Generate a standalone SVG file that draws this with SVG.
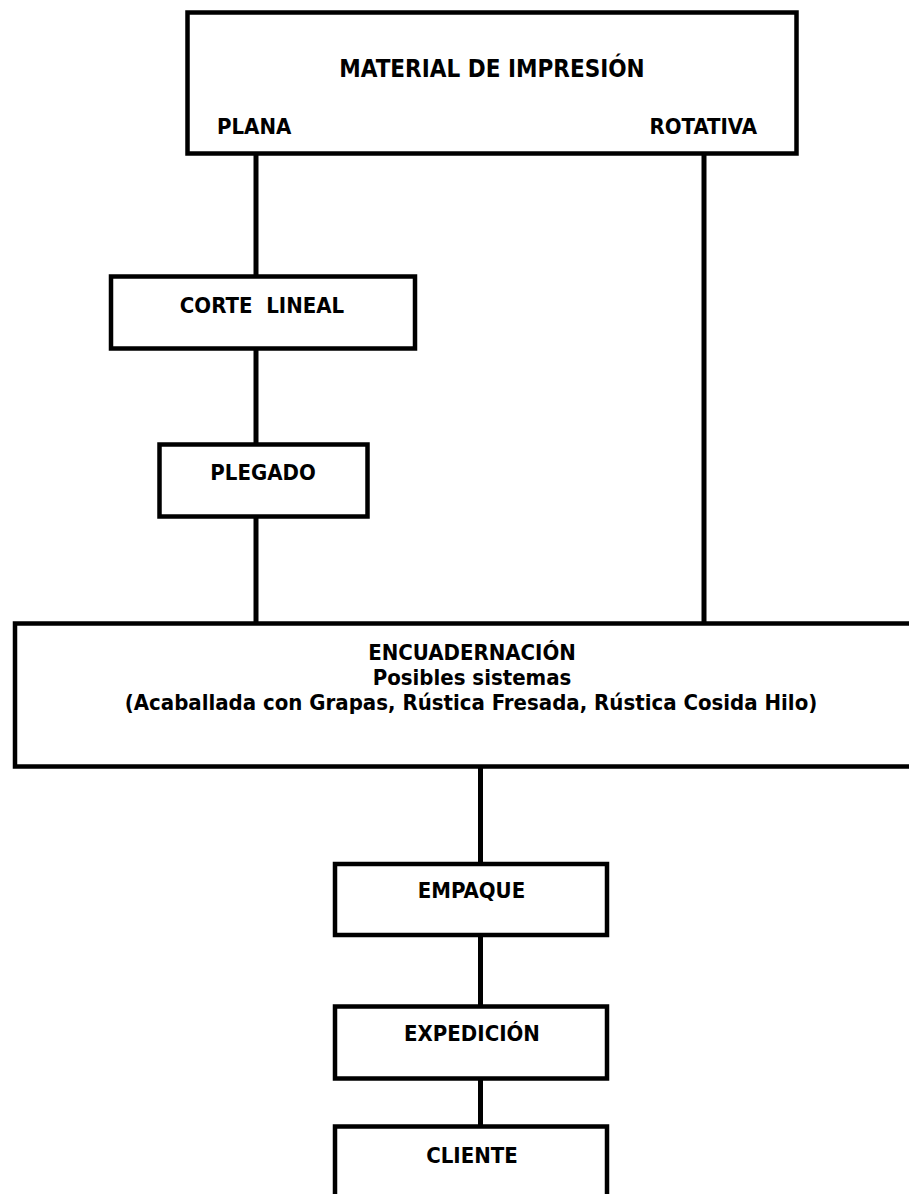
<svg xmlns="http://www.w3.org/2000/svg" width="909" height="1194" viewBox="0 0 909 1194">
<style>
.box{fill:#fff;stroke:#000;stroke-width:4.5}
.ln{stroke:#000;stroke-width:5;fill:none}
text{font-family:"DejaVu Sans Condensed","DejaVu Sans",sans-serif;font-weight:bold;font-size:22px;fill:#000}
.c{text-anchor:middle}
.t{font-size:24px}
</style>
<rect width="909" height="1194" fill="#fff"/>
<g id="connectors">
<line class="ln" x1="256" y1="153" x2="256" y2="277"/>
<line class="ln" x1="256" y1="348" x2="256" y2="445"/>
<line class="ln" x1="256" y1="516" x2="256" y2="624"/>
<line class="ln" x1="704" y1="153" x2="704" y2="624"/>
<line class="ln" x1="480.5" y1="766" x2="480.5" y2="865"/>
<line class="ln" x1="480.5" y1="935" x2="480.5" y2="1007"/>
<line class="ln" x1="480.5" y1="1078" x2="480.5" y2="1127"/>
</g>
<g id="material">
<rect class="box" x="187.5" y="12.5" width="609" height="141"/>
<text class="c t" x="492" y="77">MATERIAL DE IMPRESIÓN</text>
<text x="217" y="134">PLANA</text>
<text x="757" y="134" text-anchor="end">ROTATIVA</text>
</g>
<g id="corte">
<rect class="box" x="111" y="276.5" width="304" height="72"/>
<text class="c" x="262" y="313" xml:space="preserve">CORTE  LINEAL</text>
</g>
<g id="plegado">
<rect class="box" x="159.5" y="444.5" width="208" height="72"/>
<text class="c" x="263" y="480">PLEGADO</text>
</g>
<g id="encuadernacion">
<rect class="box" x="15" y="623.5" width="920" height="143"/>
<text class="c" x="472" y="660">ENCUADERNACIÓN</text>
<text class="c" x="472" y="685">Posibles sistemas</text>
<text class="c" x="471" y="710">(Acaballada con Grapas, Rústica Fresada, Rústica Cosida Hilo)</text>
</g>
<g id="empaque">
<rect class="box" x="335" y="864" width="272" height="71"/>
<text class="c" x="471.5" y="898">EMPAQUE</text>
</g>
<g id="expedicion">
<rect class="box" x="335" y="1006.5" width="272" height="72"/>
<text class="c" x="472" y="1041">EXPEDICIÓN</text>
</g>
<g id="cliente">
<rect class="box" x="335" y="1126.5" width="272" height="100"/>
<text class="c" x="472" y="1163">CLIENTE</text>
</g>
</svg>
